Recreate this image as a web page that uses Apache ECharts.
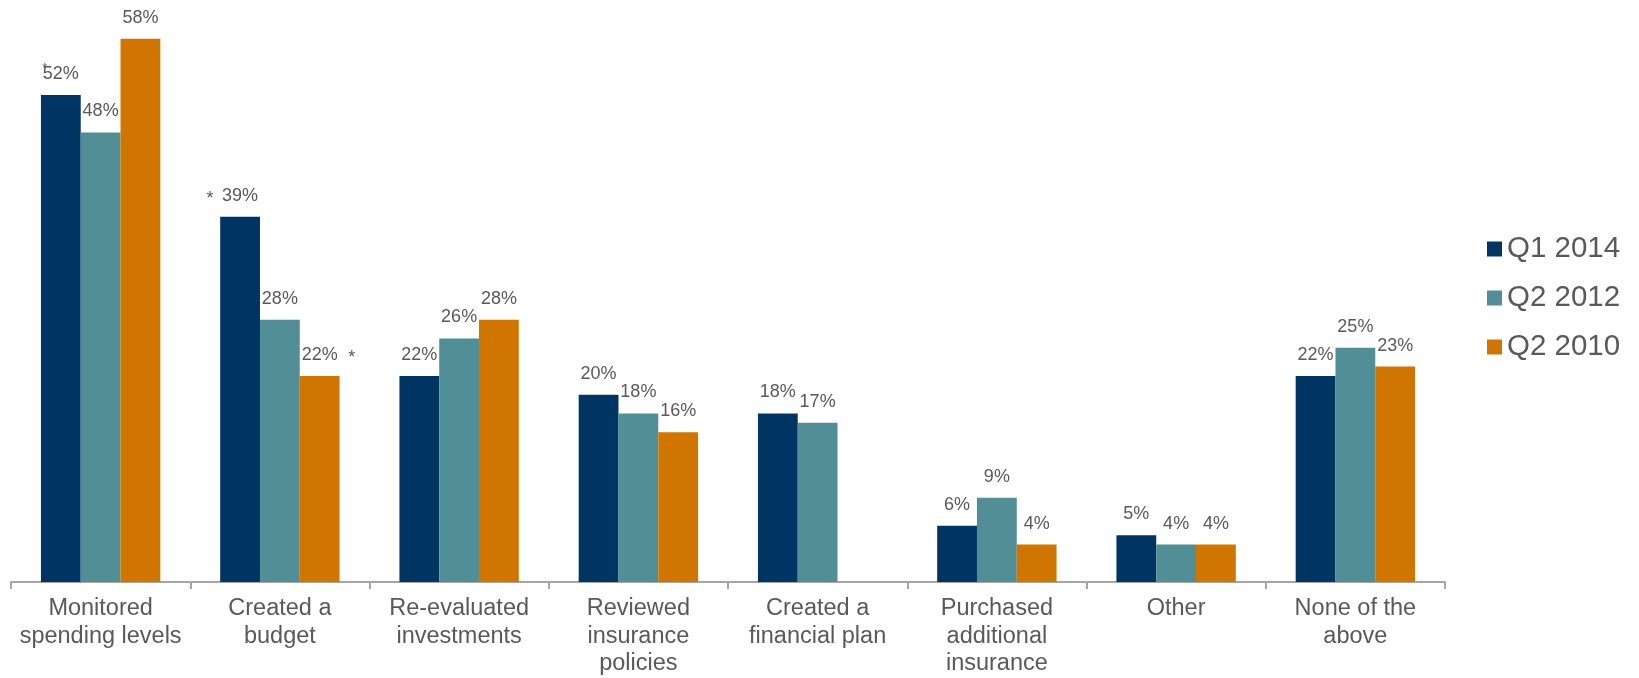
<!DOCTYPE html>
<html>
<head>
<meta charset="utf-8">
<title>Financial actions taken</title>
<script src="https://cdn.jsdelivr.net/npm/echarts@6/dist/echarts.min.js"></script>
<style>
  html, body { margin: 0; padding: 0; background: #ffffff; }
  #chart { width: 1639px; height: 678px; }
</style>
</head>
<body>
<div id="chart"></div>
<script>
// Category labels (line breaks as they wrap under the axis)
const categories = [
  'Monitored\nspending levels',
  'Created a\nbudget',
  'Re-evaluated\ninvestments',
  'Reviewed\ninsurance\npolicies',
  'Created a\nfinancial plan',
  'Purchased\nadditional\ninsurance',
  'Other',
  'None of the\nabove'
];

// Share of respondents (%) per survey wave
const q1_2014 = [52, 39, 22, 20, 18, 6, 5, 22];
const q2_2012 = [48, 28, 26, 18, 17, 9, 4, 25];
const q2_2010 = [58, 22, 28, 16, null, 4, 4, 23];

const seriesNames = ['Q1 2014', 'Q2 2012', 'Q2 2010'];
const colors = ['#003463', '#528e96', '#d07600'];

// Significance markers: [series index, category index, side]
const markers = [
  [0, 0, 'over'],
  [0, 1, 'left'],
  [2, 1, 'right']
];

const textGray = '#595959';
const font = 'Liberation Sans, Arial, Helvetica, sans-serif';

function markPointsFor(seriesIdx, values) {
  return markers
    .filter(m => m[0] === seriesIdx)
    .map(m => {
      const side = m[2];
      let offset;
      if (side === 'left') offset = [-30, -18];
      else if (side === 'right') offset = [32, -18];
      else offset = [-16, -27];
      return {
        coord: [m[1], values[m[1]]],
        label: {
          offset: offset,
          fontSize: side === 'over' ? 13 : 18
        }
      };
    });
}

function makeSeries(name, values, idx) {
  return {
    name: name,
    type: 'bar',
    data: values,
    barGap: '0%',
    barCategoryGap: '33.4%',
    itemStyle: { color: colors[idx] },
    label: {
      show: true,
      position: 'top',
      distance: 12,
      formatter: p => p.value + '%',
      color: textGray,
      fontFamily: font,
      fontSize: 18,
      lineHeight: 18
    },
    markPoint: {
      symbol: 'circle',
      symbolSize: 0,
      silent: true,
      z: 10,
      label: {
        show: true,
        position: 'inside',
        formatter: '*',
        color: textGray,
        fontFamily: font,
        fontSize: 18,
        lineHeight: 18
      },
      data: markPointsFor(idx, values)
    }
  };
}

const chart = echarts.init(document.getElementById('chart'), null, { renderer: 'canvas' });

chart.setOption({
  animation: false,
  backgroundColor: '#ffffff',
  grid: {
    left: 11,
    right: 194,
    top: 20,
    bottom: 96,
    containLabel: false
  },
  legend: {
    orient: 'vertical',
    left: 1482,
    top: 229,
    icon: 'rect',
    itemWidth: 15,
    itemHeight: 15,
    itemGap: 19,
    textStyle: {
      color: textGray,
      fontFamily: font,
      fontSize: 29.5,
      lineHeight: 29
    },
    data: seriesNames
  },
  xAxis: {
    type: 'category',
    data: categories,
    boundaryGap: true,
    axisLine: { show: true, lineStyle: { color: '#a6a6a6', width: 2 } },
    axisTick: { show: true, length: 7, alignWithLabel: false, lineStyle: { color: '#a6a6a6', width: 2 } },
    axisLabel: {
      interval: 0,
      margin: 13,
      color: textGray,
      fontFamily: font,
      fontSize: 23.5,
      lineHeight: 27.5,
      align: 'center'
    }
  },
  yAxis: {
    type: 'value',
    min: 0,
    max: 60,
    interval: 10,
    show: false,
    splitLine: { show: false }
  },
  series: [
    makeSeries(seriesNames[0], q1_2014, 0),
    makeSeries(seriesNames[1], q2_2012, 1),
    makeSeries(seriesNames[2], q2_2010, 2)
  ]
});
</script>
</body>
</html>
